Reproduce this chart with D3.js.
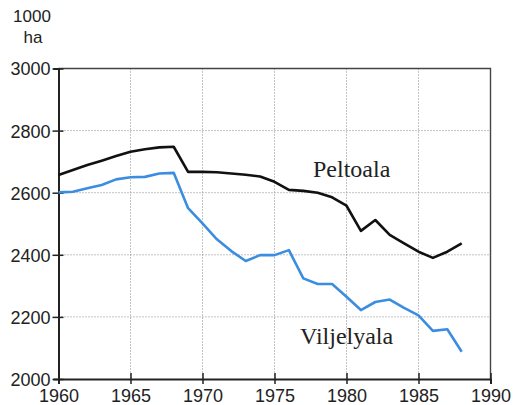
<!DOCTYPE html>
<html lang="fi">
<head>
<meta charset="utf-8">
<title>Peltoala ja viljelyala</title>
<script src="https://cdn.jsdelivr.net/npm/d3@7"></script>
<style>
  body { margin: 0; background: #fff; }
  svg { display: block; }
  .tick-label { font-family: "Liberation Sans", Arial, sans-serif; font-size: 18px; fill: #222; }
  .series-label { font-family: "Liberation Serif", "Times New Roman", serif; font-size: 24px; fill: #222; }
</style>
</head>
<body>
<div id="chart"></div>
<script>
// vuodet ja sarjat (1000 ha), luettu kuvasta
var years = d3.range(1960, 1989);
var peltoala = [2657, 2673, 2689, 2703, 2718, 2732, 2740, 2746, 2748, 2667,
                2667, 2666, 2662, 2658, 2652, 2635, 2609, 2606, 2600, 2585,
                2558, 2477, 2512, 2464, 2437, 2410, 2390, 2410, 2437];
var viljelyala = [2601, 2603, 2614, 2625, 2643, 2650, 2651, 2662, 2664, 2550,
                  2501, 2450, 2412, 2380, 2399, 2399, 2415, 2324, 2306, 2306,
                  2265, 2222, 2248, 2256, 2229, 2205, 2155, 2160, 2088];
var xTicks = [1960, 1965, 1970, 1975, 1980, 1985, 1990];
var yTicks = [2000, 2200, 2400, 2600, 2800, 3000];

var width = 518, height = 405;
// plot box (note: "top" is reserved on window, so use a margin object)
var box = {left: 58.5, right: 490.5, top: 68.5, bottom: 379};

var svg = d3.select("#chart").append("svg")
  .attr("width", width)
  .attr("height", height);

var x = d3.scaleLinear().domain([1960, 1990]).range([box.left, box.right]);
var y = d3.scaleLinear().domain([2000, 3000]).range([box.bottom, box.top]);

// dotted grid
svg.append("g").selectAll("line")
  .data(xTicks.slice(1, -1))
  .enter().append("line")
  .attr("x1", function(d) { return x(d); })
  .attr("x2", function(d) { return x(d); })
  .attr("y1", box.top).attr("y2", box.bottom)
  .attr("stroke", "#888").attr("stroke-width", 1)
  .attr("stroke-dasharray", "1,2");

svg.append("g").selectAll("line")
  .data(yTicks.slice(1, -1))
  .enter().append("line")
  .attr("x1", box.left).attr("x2", box.right)
  .attr("y1", function(d) { return y(d); })
  .attr("y2", function(d) { return y(d); })
  .attr("stroke", "#888").attr("stroke-width", 1)
  .attr("stroke-dasharray", "1,2");

// frame top + right
svg.append("path")
  .attr("d", "M" + box.left + "," + box.top + "H" + box.right + "V" + box.bottom)
  .attr("fill", "none").attr("stroke", "#444").attr("stroke-width", 1.4);

// axes (ticks cross the axis line)
var xAxis = svg.append("g")
  .attr("transform", "translate(0," + box.bottom + ")")
  .call(d3.axisBottom(x).tickValues(xTicks).tickFormat(d3.format("d")).tickSize(5));
xAxis.attr("font-size", null).attr("font-family", null);
xAxis.select(".domain").attr("stroke", "#222").attr("stroke-width", 2);
xAxis.selectAll(".tick line").attr("y1", -6).attr("y2", 5).attr("stroke", "#222").attr("stroke-width", 1.5);
xAxis.selectAll(".tick text").attr("class", "tick-label").attr("y", 0).attr("dy", 23);

var yAxis = svg.append("g")
  .attr("transform", "translate(" + box.left + ",0)")
  .call(d3.axisLeft(y).tickValues(yTicks).tickFormat(d3.format("d")).tickSize(5));
yAxis.attr("font-size", null).attr("font-family", null);
yAxis.select(".domain").attr("stroke", "#222").attr("stroke-width", 2);
yAxis.selectAll(".tick line").attr("x1", -6).attr("x2", 5).attr("stroke", "#222").attr("stroke-width", 1.5);
yAxis.selectAll(".tick text").attr("class", "tick-label").attr("x", -8).attr("dy", "0.36em");

// unit label
svg.append("text").attr("class", "tick-label")
  .attr("x", 32).attr("y", 22).attr("text-anchor", "middle")
  .style("font-size", "17px").text("1000");
svg.append("text").attr("class", "tick-label")
  .attr("x", 33).attr("y", 43).attr("text-anchor", "middle")
  .style("font-size", "17px").text("ha");

// lines
var line = d3.line()
  .x(function(d) { return x(d[0]); })
  .y(function(d) { return y(d[1]); });

svg.append("path")
  .datum(d3.zip(years, viljelyala))
  .attr("d", line)
  .attr("fill", "none").attr("stroke", "#3b8de0")
  .attr("stroke-width", 2.6).attr("stroke-linejoin", "round");

svg.append("path")
  .datum(d3.zip(years, peltoala))
  .attr("d", line)
  .attr("fill", "none").attr("stroke", "#111")
  .attr("stroke-width", 2.6).attr("stroke-linejoin", "round");

// series labels
svg.append("text").attr("class", "series-label")
  .attr("x", 313).attr("y", 177).text("Peltoala");
svg.append("text").attr("class", "series-label")
  .attr("x", 300).attr("y", 344).text("Viljelyala");
</script>
</body>
</html>
